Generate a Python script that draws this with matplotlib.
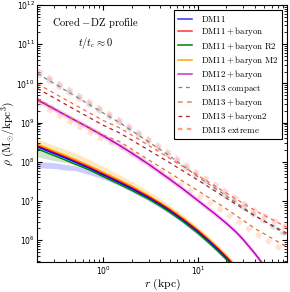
import numpy as np
import matplotlib
matplotlib.use("Agg")
import matplotlib.pyplot as plt
from matplotlib.lines import Line2D

# ---------------------------------------------------------------------------
# Data (log10 rho, rho in Msun/kpc^3, r in kpc)
# ---------------------------------------------------------------------------

r_dm11 = [0.2, 0.3, 0.4, 0.5, 0.7, 1, 1.5, 2, 3, 4, 5, 7, 10, 13, 16, 20, 25]
dm11 = [8.38, 8.21, 8.09, 7.99, 7.84, 7.66, 7.46, 7.31, 7.08, 6.90, 6.75, 6.50, 6.21, 5.97, 5.77, 5.54, 5.29]
dm11_baryon = [8.41, 8.24, 8.12, 8.02, 7.87, 7.69, 7.49, 7.34, 7.11, 6.93, 6.78, 6.53, 6.24, 6.00, 5.80, 5.57, 5.32]
dm11_baryon_r2 = [8.33, 8.16, 8.04, 7.94, 7.80, 7.62, 7.42, 7.27, 7.05, 6.87, 6.72, 6.47, 6.18, 5.94, 5.74, 5.51, 5.26]
dm11_baryon_m2 = [8.45, 8.28, 8.16, 8.06, 7.91, 7.73, 7.53, 7.38, 7.14, 6.96, 6.81, 6.56, 6.27, 6.03, 5.83, 5.60, 5.35]

# scatter bands of the DM11 runs
dm11_band_hi = [8.00, 7.98, 7.93, 7.90, 7.80, 7.67, 7.47, 7.31, 7.08, 6.90, 6.75, 6.50, 6.21, 5.97, 5.77, 5.54, 5.29]
dm11_band_lo = [7.85, 7.83, 7.79, 7.78, 7.68, 7.56, 7.38, 7.23, 7.00, 6.82, 6.67, 6.42, 6.13, 5.89, 5.69, 5.46, 5.21]
m2_band_hi = [8.58, 8.42, 8.31, 8.22, 8.07, 7.88, 7.66, 7.50, 7.25, 7.06, 6.90, 6.64, 6.34, 6.10, 5.90, 5.67, 5.42]
r_r2_band = [0.2, 0.3, 0.4, 0.5]
r2_band_hi = [8.33, 8.16, 8.04, 7.94]
r2_band_lo = [8.13, 8.03, 7.98, 7.94]

r_dm12 = [0.2, 0.3, 0.5, 0.7, 1, 1.5, 2, 3, 5, 7, 10, 15, 20, 25, 30, 40, 49]
dm12_baryon = [9.58, 9.35, 9.06, 8.87, 8.66, 8.41, 8.22, 7.94, 7.56, 7.30, 7.01, 6.68, 6.43, 6.22, 6.02, 5.66, 5.38]

r_dm13 = [0.2, 0.5, 1.0, 1.5, 3, 5, 10.5, 20, 40, 87]
dm13_compact = [10.25, 9.68, 9.24, 8.99, 8.51, 8.15, 7.58, 7.13, 6.63, 6.13]
dm13_extreme = [9.99, 9.45, 9.05, 8.86, 8.42, 8.09, 7.62, 7.20, 6.76, 6.33]
dm13_baryon2 = [9.87, 9.33, 8.93, 8.73, 8.30, 7.98, 7.50, 7.07, 6.62, 6.18]
dm13_baryon = [9.61, 9.06, 8.68, 8.51, 8.05, 7.72, 7.23, 6.80, 6.30, 5.83]
# thick (scatter) traces of the extreme run
dm13_extreme_hi = [10.32, 9.74, 9.30, 9.05, 8.57, 8.21, 7.66, 7.22, 6.75, 6.32]
dm13_extreme_lo = [9.50, 8.95, 8.57, 8.40, 7.94, 7.61, 7.11, 6.68, 6.18, 5.70]


def p(v):
    return 10.0 ** np.asarray(v)


fig = plt.figure(figsize=(2.9, 2.92), dpi=100)
ax = fig.add_axes([0.129, 0.103, 0.86, 0.88])

# --- shaded scatter of the solid runs
ax.fill_between(r_dm11, p(dm11_band_lo), p(dm11_band_hi), color="blue", alpha=0.2, lw=0)
ax.fill_between(r_dm11, p(dm11_baryon_m2), p(m2_band_hi), color="orange", alpha=0.25, lw=0)
ax.fill_between(r_r2_band, p(r2_band_lo), p(r2_band_hi), color="green", alpha=0.2, lw=0)
ax.fill_between(r_dm12, p(dm12_baryon) * 10**-0.07, p(dm12_baryon) * 10**0.07,
                color="m", alpha=0.18, lw=0)

# --- thick translucent dashes behind the DM13 lines
thick = dict(lw=3.8, dashes=(1.0, 1.2))
ax.plot(r_dm13, p(dm13_compact), color="silver", alpha=0.45, **thick)
ax.plot(r_dm13, p(dm13_extreme_hi), color="salmon", alpha=0.3, **thick)
ax.plot(r_dm13, p(dm13_extreme_lo), color="lightsalmon", alpha=0.3, **thick)

# --- solid lines
ax.plot(r_dm11, p(dm11_baryon_m2), color="orange", lw=1.1)
ax.plot(r_dm11, p(dm11_baryon), color="red", lw=1.1)
ax.plot(r_dm11, p(dm11), color="blue", lw=1.1)
ax.plot(r_dm11, p(dm11_baryon_r2), color="green", lw=1.1)
ax.plot(r_dm12, p(dm12_baryon), color="m", lw=1.1)

# --- thin dashed DM13 lines
thin = dict(lw=0.9, dashes=(3, 3))
ax.plot(r_dm13, p(dm13_compact), color="gray", **thin)
ax.plot(r_dm13, p(dm13_extreme), color="tomato", **thin)
ax.plot(r_dm13, p(dm13_baryon2), color="#b22222", **thin)
ax.plot(r_dm13, p(dm13_baryon), color="#e07030", **thin)

ax.set_xscale("log")
ax.set_yscale("log")
ax.set_xlim(0.2, 87)
ax.set_ylim(2.8e5, 1e12)
ax.tick_params(which="both", direction="in", top=True, right=True, labelsize=5.5, pad=2)
ax.tick_params(which="major", length=3.5, width=0.8)
ax.tick_params(which="minor", length=2, width=0.6)
ax.set_yticks([1e6, 1e7, 1e8, 1e9, 1e10, 1e11, 1e12])

ax.set_xlabel(r"$r\ (\mathrm{kpc})$", fontsize=8.5, math_fontfamily="cm")
ax.set_ylabel(r"$\rho\ (\mathrm{M}_{\odot}/\mathrm{kpc}^3)$", fontsize=8.2,
              math_fontfamily="cm")
ax.xaxis.set_label_coords(0.5, -0.058)
ax.yaxis.set_label_coords(-0.082, 0.5)

ax.text(0.231, 0.93, r"$\mathrm{Cored}-\mathrm{DZ\ profile}$", transform=ax.transAxes,
        ha="center", va="center", fontsize=7.5, math_fontfamily="cm")
ax.text(0.231, 0.852, r"$t/t_c\approx0$", transform=ax.transAxes,
        ha="center", va="center", fontsize=7.5, math_fontfamily="cm")

handles = [
    Line2D([], [], color="blue", lw=1.1, alpha=0.8),
    Line2D([], [], color="red", lw=1.1, alpha=0.8),
    Line2D([], [], color="green", lw=1.1),
    Line2D([], [], color="orange", lw=1.1),
    Line2D([], [], color="m", lw=1.1, alpha=0.8),
    Line2D([], [], color="gray", lw=0.9, dashes=(3, 3)),
    Line2D([], [], color="#e08850", lw=1.1, dashes=(3, 3)),
    Line2D([], [], color="#b22222", lw=0.9, dashes=(3, 3)),
    Line2D([], [], color="lightsalmon", lw=1.6, dashes=(2, 2)),
]
labels = [r"$\mathrm{DM11}$", r"$\mathrm{DM11}+\mathrm{baryon}$",
          r"$\mathrm{DM11}+\mathrm{baryon\ R2}$", r"$\mathrm{DM11}+\mathrm{baryon\ M2}$",
          r"$\mathrm{DM12}+\mathrm{baryon}$", r"$\mathrm{DM13\ compact}$",
          r"$\mathrm{DM13}+\mathrm{baryon}$", r"$\mathrm{DM13}+\mathrm{baryon2}$",
          r"$\mathrm{DM13\ extreme}$"]
leg = ax.legend(handles, labels, loc="upper right", fontsize=6.4, fancybox=False,
                framealpha=1, edgecolor="black", handlelength=1.6,
                borderpad=0.45, labelspacing=0.15, borderaxespad=0.55, handletextpad=1.0)
leg.get_frame().set_linewidth(0.8)
for t in leg.get_texts():
    t.set_math_fontfamily("cm")

fig.savefig("out.png", dpi=100)
